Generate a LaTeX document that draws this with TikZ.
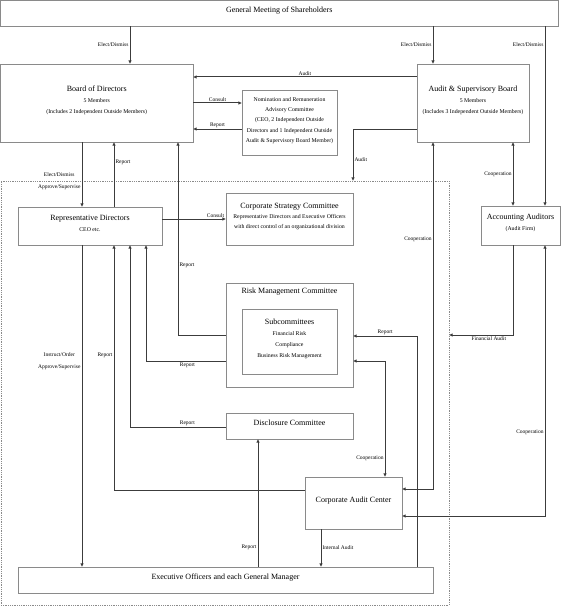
\documentclass[tikz,border=0pt]{standalone}
\usepackage{fontspec}
\setmainfont{Liberation Serif}
\usetikzlibrary{arrows.meta,fit}
\definecolor{boxgray}{HTML}{8A8A8A}
\definecolor{linegray}{HTML}{3C3C3C}
\newcommand\fT{\fontsize{8}{11}\selectfont}
\newcommand\fS{\fontsize{5.8}{11}\selectfont}
\newcommand\fN{\fontsize{5.8}{10.3}\selectfont}
\newcommand\fL{\fontsize{5.5}{12}\selectfont}
\begin{document}
\begin{tikzpicture}[x=1pt,y=-1pt,
  box/.style={draw=boxgray, line width=0.8pt, fill=white, inner sep=0pt, align=center, font=\fS},
  dashbox/.style={draw=boxgray, line width=0.8pt, densely dotted, inner sep=0pt},
  conn/.style={draw=linegray, line width=1pt},
  arr/.style={conn, -{Triangle[length=3.2pt,width=3pt]}},
  both/.style={conn, {Triangle[length=3.2pt,width=3pt]}-{Triangle[length=3.2pt,width=3pt]}},
  lab/.style={font=\fL, inner sep=1pt, text=black, align=center}]
\useasboundingbox (0,0) rectangle (561,607);
\fill[white] (0,0) rectangle (561,607);
% column / row helpers
\foreach \c in {82,114,130,146,178,258,321,353,385,417,433,513,545}{\coordinate (x\c) at (\c,0);}
\foreach \r in {77,103,129,219,335,336,361,427,489,490,516}{\coordinate (y\r) at (0,\r);}
% dashed frame
\node[dashbox, fit={(1,181) (449,605)}] (dash) {};
% boxes
\node[box, fit={(0.5,0.5) (558,26)}, font=\fT] (gm) {General Meeting of Shareholders};
\node[box, fit={(0.5,64) (193,142)}] (board) {{\fT Board of Directors}\\5 Members\\(Includes 2 Independent Outside Members)};
\node[box, fit={(242,90) (337,155)}, font=\fN] (nom) {Nomination and Remuneration\\Advisory Committee\\(CEO, 2 Independent Outside\\Directors and 1 Independent Outside\\Audit \& Supervisory Board Member)};
\node[box, fit={(417,64) (529,142)}] (asb) {{\fT Audit \& Supervisory Board}\\5 Members\\(Includes 3 Independent Outside Members)};
\node[box, fit={(18,207) (162,245)}] (rd) {{\fT Representative Directors}\\CEO etc.};
\node[box, fit={(226,193) (353,245)}] (csc) {{\fT Corporate Strategy Committee}\\[-1pt]Representative Directors and Executive Officers\\[-1pt]with direct control of an organizational division};
\node[box, fit={(481,206) (560,245)}] (aa) {{\fT Accounting Auditors}\\(Audit Firm)};
\node[box, fit={(226,283) (353,387)}] (rm) {};
\node[font=\fT, anchor=center] (rmt) at (289.5,292) {Risk Management Committee};
\node[box, fit={(242,309) (337,374)}] (sub) {{\fT Subcommittees}\\Financial Risk\\Compliance\\Business Risk Management};
\node[box, fit={(226,413) (353,439)}, font=\fT] (dc) {Disclosure Committee};
\node[box, fit={(305,477) (402,529)}, font=\fT] (cac) {Corporate Audit Center};
\node[box, fit={(18,567) (433,593)}, font=\fT] (exec) {Executive Officers and each General Manager};
% connectors
\draw[arr] (gm.south -| x130) -- node[lab,left]{Elect/Dismiss} (board.north -| x130);
\draw[arr] (gm.south -| x433) -- node[lab,left]{Elect/Dismiss} (asb.north -| x433);
\draw[arr] (gm.south -| x545) -- node[lab,left,pos=0.1]{Elect/Dismiss} (aa.north -| x545);
\draw[arr] (asb.west |- y77) -- node[lab,above]{Audit} (board.east |- y77);
\draw[arr] (board.east |- y103) -- node[lab,above]{Consult} (nom.west |- y103);
\draw[arr] (nom.west |- y129) -- node[lab,above]{Report} (board.east |- y129);
\draw[arr] (asb.west |- y129) -| node[lab,right,pos=0.8]{Audit} (dash.north -| x353);
\draw[arr] (board.south -| x82) -- node[lab,left,pos=0.6]{Elect/Dismiss\\Approve/Supervise} (rd.north -| x82);
\draw[arr] (rd.north -| x114) -- node[lab,right,pos=0.69]{Report} (board.south -| x114);
\draw[arr] (rm.west |- y335) -| node[lab,right,pos=0.68]{Report} (board.south -| x178);
\draw[arr] (rd.east |- y219) -- node[lab,above,pos=0.84]{Consult} (csc.west |- y219);
\draw[both] (asb.south -| x513) -- node[lab,left]{Cooperation} (aa.north -| x513);
\draw[both] (asb.south -| x433) |- node[lab,left,pos=0.14]{Cooperation} (cac.east |- y489);
\draw[arr] (aa.south -| x513) |- node[lab,below,pos=0.69]{Financial Audit} (dash.east |- y335);
\draw[both] (aa.south -| x545) |- node[lab,left,pos=0.345]{Cooperation} (cac.east |- y516);
\draw[arr] (rm.west |- y361) -| node[lab,below,pos=0.24]{Report} (rd.south -| x146);
\draw[arr] (dc.west |- y427) -| node[lab,above,pos=0.2]{Report} (rd.south -| x130);
\draw[arr] (cac.west |- y490) -| node[lab,left,pos=0.775]{Report} (rd.south -| x114);
\draw[arr] (rd.south -| x82) -- node[lab,left,pos=0.36]{Instruct/Order\\Approve/Supervise} (exec.north -| x82);
\draw[arr] (exec.north -| x258) -- node[lab,left,pos=0.15]{Report} (dc.south -| x258);
\draw[arr] (cac.south -| x321) -- node[lab,right]{Internal Audit} (exec.north -| x321);
\draw[arr] (exec.north -| x417) |- node[lab,above,pos=0.75]{Report} (rm.east |- y336);
\draw[both] (rm.east |- y361) -| node[lab,left,pos=0.92]{Cooperation} (cac.north -| x385);
\end{tikzpicture}
\end{document}
